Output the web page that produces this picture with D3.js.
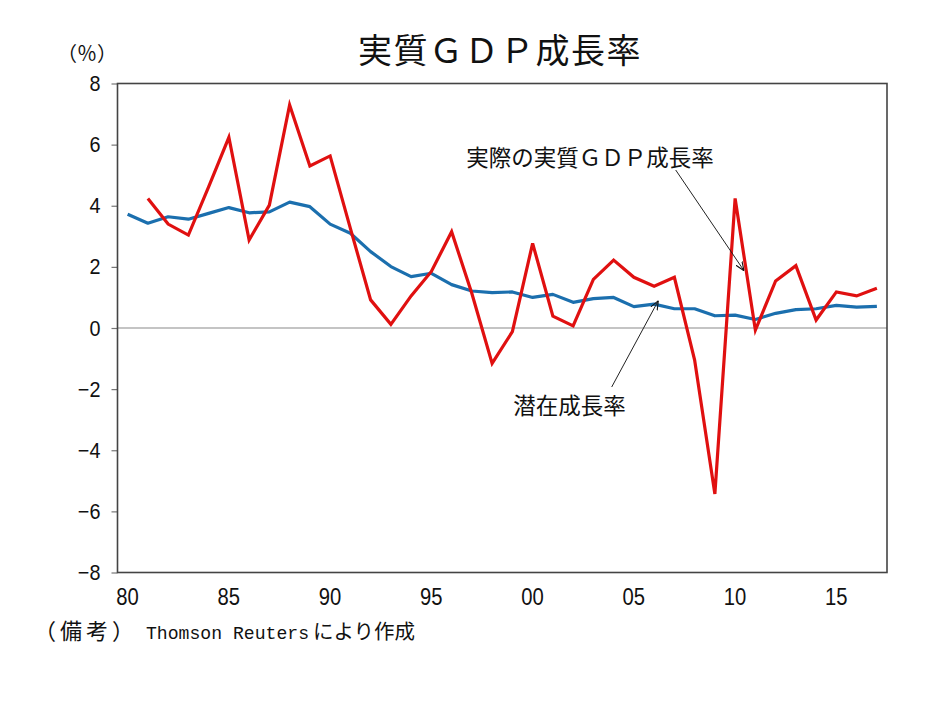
<!DOCTYPE html>
<html><head><meta charset="utf-8">
<script src="https://cdn.jsdelivr.net/npm/d3@7"></script>
<style>
html,body{margin:0;padding:0;background:#fff;}
svg{display:block;}
</style></head>
<body>
<script>
const years = [1980,1981,1982,1983,1984,1985,1986,1987,1988,1989,1990,1991,1992,1993,1994,1995,1996,1997,1998,1999,2000,2001,2002,2003,2004,2005,2006,2007,2008,2009,2010,2011,2012,2013,2014,2015,2016,2017];
const potentialGrowth = [3.72,3.43,3.64,3.56,3.75,3.94,3.77,3.80,4.12,3.97,3.40,3.10,2.50,2.01,1.68,1.79,1.42,1.21,1.16,1.18,1.00,1.10,0.84,0.96,1.00,0.70,0.78,0.63,0.63,0.40,0.42,0.28,0.48,0.60,0.63,0.74,0.68,0.71];
const actualGrowth = [null,4.24,3.40,3.04,4.62,6.24,2.88,4.02,7.30,5.30,5.63,3.26,0.92,0.12,1.05,1.85,3.15,1.13,-1.16,-0.12,2.77,0.39,0.07,1.59,2.22,1.66,1.37,1.66,-1.05,-5.43,4.24,-0.07,1.54,2.04,0.26,1.18,1.05,1.30];
const xTickYears = [1980,1985,1990,1995,2000,2005,2010,2015];
const xTickLabels = ["80","85","90","95","00","05","10","15"];
const yTicks = [8,6,4,2,0,-2,-4,-6,-8];
const yTickLabels = ["8","6","4","2","0","−2","−4","−6","−8"];
const title = "実質ＧＤＰ成長率";
const unitLabel = "（％）";
const actualLabel = "実際の実質ＧＤＰ成長率";
const potentialLabel = "潜在成長率";
const notePrefix = "（備考）";
const noteSource = "Thomson Reuters";
const noteSuffix = "により作成";

const W = 934, H = 701;
const plot = {left:117.5, right:887, top:83.5, bottom:572.5};
const cjk = "'Noto Sans CJK JP','Noto Sans CJK SC',sans-serif";
const latin = "'Liberation Sans',Arial,sans-serif";

const svg = d3.select("body").append("svg").attr("width",W).attr("height",H);

const x = d3.scaleBand().domain(years).range([plot.left, plot.right]).padding(0);
const xc = d => x(d) + x.bandwidth()/2;
const y = d3.scaleLinear().domain([-8,8]).range([plot.bottom, plot.top]);

// zero line
svg.append("line").attr("x1",plot.left).attr("x2",plot.right)
  .attr("y1",y(0)).attr("y2",y(0)).attr("stroke","#8a8a8a").attr("stroke-width",1.2);

// y axis
const yAxis = d3.axisLeft(y).tickValues(yTicks).tickSize(6).tickPadding(13)
  .tickFormat((d,i)=>yTickLabels[i]);
const gy = svg.append("g").attr("transform",`translate(${plot.left},0)`).call(yAxis);
gy.select(".domain").remove();
gy.selectAll(".tick line").attr("stroke","#777").attr("stroke-width",1.2);
gy.selectAll(".tick text").attr("font-family",latin)
  .attr("font-size",22).attr("fill","#111").style("transform","scaleX(0.9)");

// x axis
const xAxis = d3.axisBottom(x).tickValues(xTickYears).tickSize(0).tickPadding(16)
  .tickFormat((d,i)=>xTickLabels[i]);
const gx = svg.append("g").attr("transform",`translate(0,${plot.bottom})`).call(xAxis);
gx.select(".domain").remove();
gx.selectAll(".tick text").attr("font-family",latin)
  .attr("font-size",23).attr("fill","#111").style("transform","scaleX(0.88)");

// frame
svg.append("rect").attr("x",plot.left).attr("y",plot.top)
  .attr("width",plot.right-plot.left).attr("height",plot.bottom-plot.top)
  .attr("fill","none").attr("stroke","#444").attr("stroke-width",1.6);

// lines
const lineGen = d3.line().defined(d=>d.v!==null).x(d=>xc(d.yr)).y(d=>y(d.v));
svg.append("path").datum(years.map((yr,i)=>({yr,v:potentialGrowth[i]})))
  .attr("d",lineGen).attr("fill","none").attr("stroke","#1b6fae").attr("stroke-width",3.2)
  .attr("stroke-linejoin","round");
svg.append("path").datum(years.map((yr,i)=>({yr,v:actualGrowth[i]})))
  .attr("d",lineGen).attr("fill","none").attr("stroke","#e01010").attr("stroke-width",3.2)
  .attr("stroke-linejoin","miter");

// arrow marker
const defs = svg.append("defs");
defs.append("marker").attr("id","arr").attr("viewBox","0 0 10 10").attr("refX",10).attr("refY",5)
  .attr("markerWidth",9).attr("markerHeight",9).attr("orient","auto").attr("markerUnits","userSpaceOnUse")
  .append("path").attr("d","M0,1 L10,5 L0,9").attr("fill","none").attr("stroke","#111").attr("stroke-width",1.2);

// annotations
svg.append("text").attr("x",590).attr("y",166).attr("text-anchor","middle")
  .attr("font-family",cjk).attr("font-size",22.5).attr("fill","#111").text(actualLabel);
svg.append("line").attr("x1",675.7).attr("y1",170).attr("x2",744).attr("y2",270.7)
  .attr("stroke","#222").attr("stroke-width",1).attr("marker-end","url(#arr)");

svg.append("text").attr("x",569.5).attr("y",414).attr("text-anchor","middle")
  .attr("font-family",cjk).attr("font-size",22.5).attr("fill","#111").text(potentialLabel);
svg.append("line").attr("x1",611.7).attr("y1",387).attr("x2",658.3).attr("y2",300.7)
  .attr("stroke","#222").attr("stroke-width",1).attr("marker-end","url(#arr)");

// title
svg.append("text").attr("x",500).attr("y",63).attr("text-anchor","middle")
  .attr("font-family",cjk).attr("font-size",34).attr("letter-spacing",1.5).attr("fill","#111").text(title);

// unit
svg.append("text").attr("x",87).attr("y",61).attr("text-anchor","middle")
  .attr("font-family",cjk).attr("font-size",20).attr("fill","#111").text(unitLabel);

// footnote (three pieces)
svg.append("text").attr("x",34).attr("y",639).attr("letter-spacing",4)
  .attr("font-family",cjk).attr("font-size",22).attr("fill","#111").text(notePrefix);
svg.append("text").attr("x",146).attr("y",639)
  .attr("font-family","'Liberation Mono','DejaVu Sans Mono',monospace").attr("font-size",18)
  .attr("textLength",163).attr("lengthAdjust","spacingAndGlyphs").attr("fill","#111").text(noteSource);
svg.append("text").attr("x",313).attr("y",639)
  .attr("font-family",cjk).attr("font-size",20.5).attr("fill","#111").text(noteSuffix);
</script>
</body></html>
